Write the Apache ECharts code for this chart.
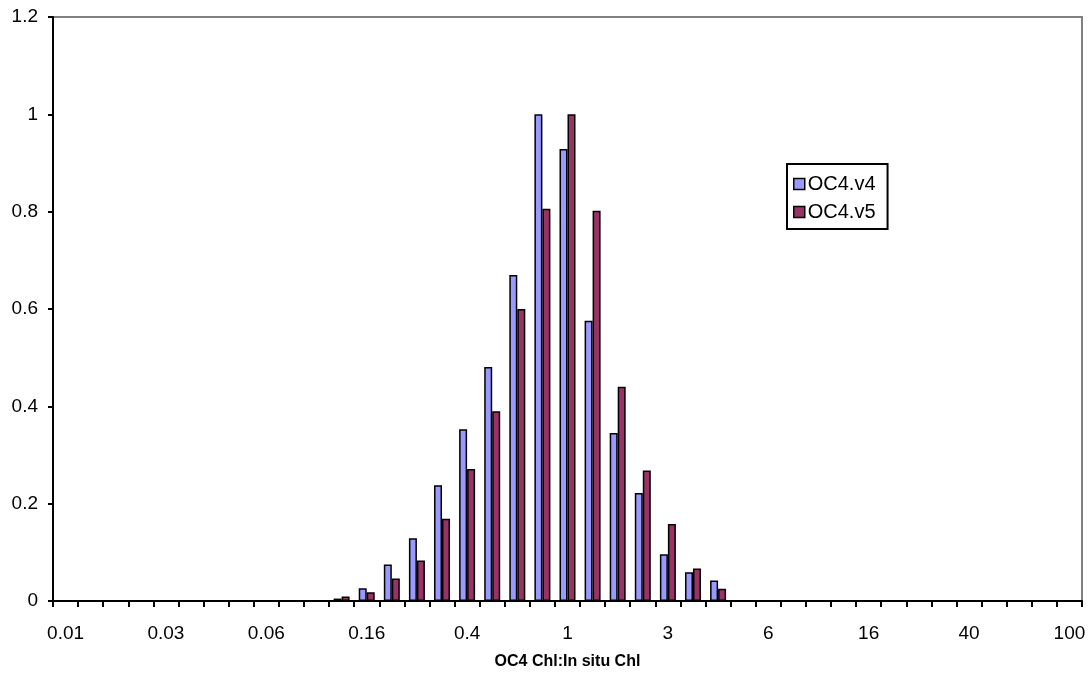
<!DOCTYPE html>
<html>
<head>
<meta charset="utf-8">
<script src="https://cdn.jsdelivr.net/npm/echarts@6/dist/echarts.min.js"></script>
<style>
html,body{margin:0;padding:0;background:#fff;}
#chart{width:1089px;height:681px;}
</style>
</head>
<body>
<div id="chart"></div>
<script>
// Category labels (ratio bins, log spaced); only every 4th is shown
const categories = [
  '0.01','0.013','0.016','0.02','0.03','0.032','0.04','0.05','0.06','0.079',
  '0.1','0.13','0.16','0.2','0.25','0.32','0.4','0.5','0.63','0.79',
  '1','1.26','1.58','2','3','3.16','4','5','6','7.9',
  '10','12.6','16','20','25','32','40','50','63','79',
  '100'
];
const seriesNames = ['OC4.v4', 'OC4.v5'];
const oc4v4 = [
  0,0,0,0,0,0,0,0,0,0,
  0,0.005,0.026,0.075,0.129,0.238,0.353,0.481,0.670,1.0,
  0.929,0.576,0.345,0.222,0.096,0.059,0.042,0,0,0,
  0,0,0,0,0,0,0,0,0,0,
  0
];
const oc4v5 = [
  0,0,0,0,0,0,0,0,0,0,
  0,0.009,0.018,0.046,0.083,0.169,0.271,0.390,0.600,0.806,
  1.0,0.802,0.440,0.268,0.158,0.067,0.025,0,0,0,
  0,0,0,0,0,0,0,0,0,0,
  0
];
const yTicks = {min: 0, max: 1.2, interval: 0.2};

const chart = echarts.init(document.getElementById('chart'), null, {renderer: 'canvas'});
const FONT = 'Liberation Sans, Arial, sans-serif';
chart.setOption({
  animation: false,
  backgroundColor: '#fff',
  textStyle: {fontFamily: FONT},
  grid: {
    left: 53, right: 7, top: 17, bottom: 80,
    show: true, borderColor: '#808080', borderWidth: 2, backgroundColor: 'transparent'
  },
  legend: {
    orient: 'vertical',
    left: 787, top: 164,
    padding: [10, 12, 7, 6],
    itemGap: 8,
    itemWidth: 11, itemHeight: 11,
    icon: 'rect',
    borderColor: '#000', borderWidth: 2,
    itemStyle: {borderColor: '#000', borderWidth: 1.5},
    textStyle: {fontSize: 20, color: '#000', fontFamily: FONT, padding: [0, 0, 0, -2]},
    data: seriesNames
  },
  xAxis: {
    type: 'category',
    data: categories,
    name: 'OC4 Chl:In situ Chl',
    nameLocation: 'middle',
    nameGap: 53,
    nameTextStyle: {fontSize: 16, fontWeight: 'bold', color: '#000', fontFamily: FONT},
    axisLine: {lineStyle: {color: '#000', width: 2}},
    axisTick: {show: true, interval: 0, length: 6, lineStyle: {color: '#000', width: 2}},
    axisLabel: {interval: 3, fontSize: 19, color: '#000', margin: 23, fontFamily: FONT},
    splitLine: {show: false}
  },
  yAxis: {
    type: 'value',
    min: yTicks.min, max: yTicks.max, interval: yTicks.interval,
    axisLine: {show: true, lineStyle: {color: '#000', width: 2}},
    axisTick: {show: true, length: 5, lineStyle: {color: '#000', width: 2}},
    axisLabel: {fontSize: 19, color: '#000', margin: 15, fontFamily: FONT},
    splitLine: {show: false}
  },
  series: [
    {
      name: seriesNames[0], type: 'bar', data: oc4v4,
      barWidth: 8, barGap: '0%',
      itemStyle: {color: '#9999FF', borderColor: '#000', borderWidth: 1.5}
    },
    {
      name: seriesNames[1], type: 'bar', data: oc4v5,
      barWidth: 8, barGap: '0%',
      itemStyle: {color: '#993366', borderColor: '#000', borderWidth: 1.5}
    }
  ]
});
</script>
</body>
</html>
